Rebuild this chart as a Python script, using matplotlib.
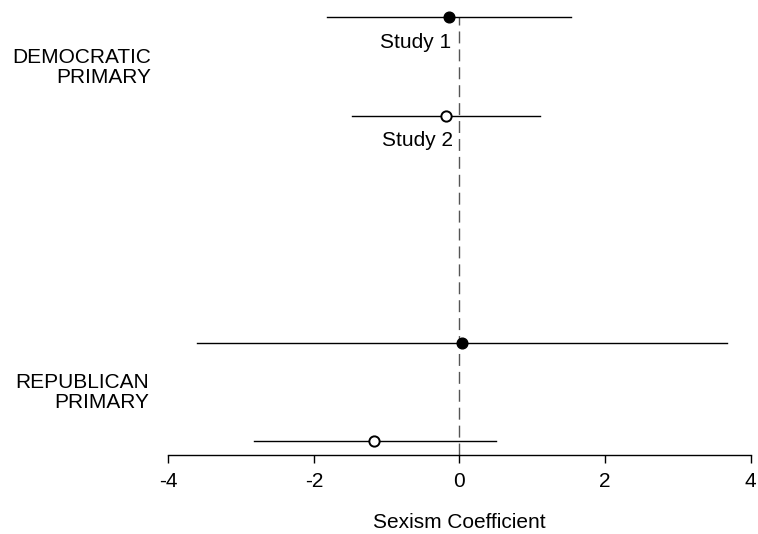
import matplotlib
matplotlib.use("Agg")
import matplotlib.pyplot as plt

plt.rcParams['font.family'] = ['Liberation Sans', 'DejaVu Sans']

# Data
groups = ["DEMOCRATIC\nPRIMARY", "REPUBLICAN\nPRIMARY"]
studies = ["Study 1", "Study 2"]
estimates = [-0.14, -0.19, 0.04, -1.17]
ci_low = [-1.82, -1.47, -3.61, -2.82]
ci_high = [1.53, 1.11, 3.68, 0.50]
filled = [True, False, True, False]
xticks = [-4, -2, 0, 2, 4]
xlabel = "Sexism Coefficient"

# Layout (row positions)
rows = [4.34, 3.33, 1.0, 0.0]

W, H, DPI = 758, 534, 100
fig = plt.figure(figsize=(W / DPI, H / DPI), dpi=DPI)
ax = fig.add_axes([0, 0, 1, 1])

X0, XS = 459.5, 72.8   # pixel of x=0, pixels per unit
Y0, YS = 441.0, 97.7   # pixel (from top) of row 0, pixels per row unit

def px2x(p):
    return (p - X0) / XS

def py2y(p):
    return (Y0 - p) / YS

ax.set_xlim(px2x(0), px2x(W))
ax.set_ylim(py2y(H), py2y(0))
for s in ["top", "right", "left"]:
    ax.spines[s].set_visible(False)
ax.set_yticks([])

axis_y = py2y(455)
ax.spines["bottom"].set_position(("data", axis_y))
ax.spines["bottom"].set_bounds(xticks[0], xticks[-1])
ax.spines["bottom"].set_linewidth(1.0)
ax.set_xticks(xticks)
ax.set_xticklabels([str(t) for t in xticks], fontsize=15)
ax.tick_params(axis="x", direction="out", length=5.8, width=1.0, pad=6.5)

# dashed zero line
ax.plot([0, 0], [axis_y, rows[0]], color="#555555", lw=1.0,
        dashes=(8.6, 4.3), zorder=1)

for i in range(4):
    ax.plot([ci_low[i], ci_high[i]], [rows[i], rows[i]], color="black", lw=1.0, zorder=2)
    if filled[i]:
        ax.plot(estimates[i], rows[i], "o", ms=7.7, mfc="black", mec="black", mew=1.0, zorder=3)
    else:
        ax.plot(estimates[i], rows[i], "o", ms=7.4, mfc="white", mec="black", mew=1.4, zorder=3)

# study labels
ax.text(px2x(451), py2y(48.3), studies[0], ha="right", va="baseline", fontsize=15)
ax.text(px2x(453), py2y(146), studies[1], ha="right", va="baseline", fontsize=15)

# group labels
g0 = groups[0].split("\n")
g1 = groups[1].split("\n")
ax.text(px2x(150.7), py2y(62.7), g0[0], ha="right", va="baseline", fontsize=15)
ax.text(px2x(150.7), py2y(83.3), g0[1], ha="right", va="baseline", fontsize=15)
ax.text(px2x(149.5), py2y(388.3), g1[0], ha="right", va="baseline", fontsize=15)
ax.text(px2x(149.5), py2y(408.5), g1[1], ha="right", va="baseline", fontsize=15)

ax.text(0, py2y(527.5), xlabel, ha="center", va="baseline", fontsize=15)

fig.savefig("out.png", dpi=DPI)
